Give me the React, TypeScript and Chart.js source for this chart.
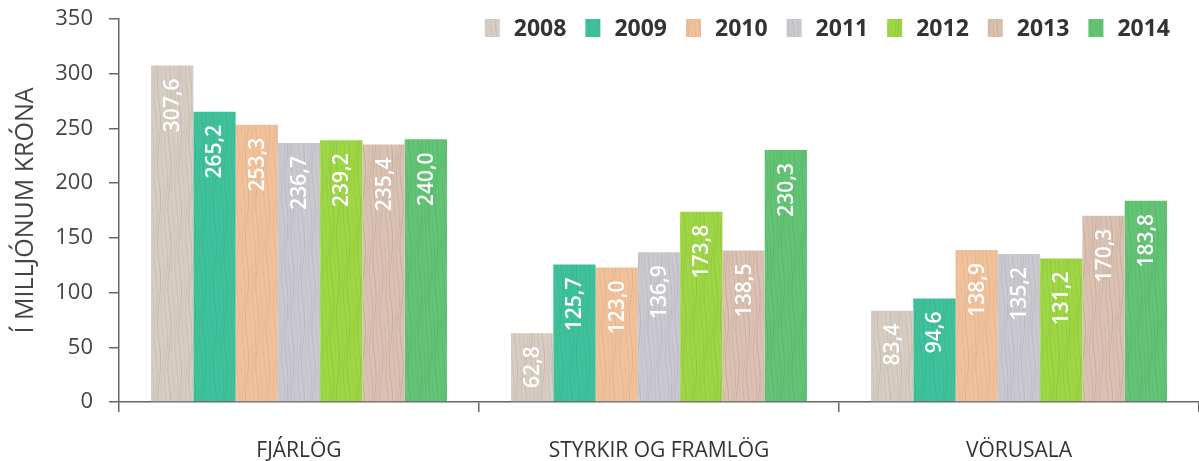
import React, { useEffect, useRef } from "react";
import { Chart, registerables } from "chart.js";

Chart.register(...registerables);

// Categories on the x axis
const categories = ["FJÁRLÖG", "STYRKIR OG FRAMLÖG", "VÖRUSALA"];

// Series (one per year), in millions of krónur
const years = ["2008", "2009", "2010", "2011", "2012", "2013", "2014"];
const values2008 = [307.6, 62.8, 83.4];
const values2009 = [265.2, 125.7, 94.6];
const values2010 = [253.3, 123.0, 138.9];
const values2011 = [236.7, 136.9, 135.2];
const values2012 = [239.2, 173.8, 131.2];
const values2013 = [235.4, 138.5, 170.3];
const values2014 = [240.0, 230.3, 183.8];

// Y axis ticks
const yTicks = [0, 50, 100, 150, 200, 250, 300, 350];
const yTitle = "Í MILLJÓNUM KRÓNA";

// Base wood tones and grain tones for each year
const baseColors = ["#d8cdc3", "#3fc29b", "#f0c19b", "#c9c9cf", "#9ed646", "#dbc1b2", "#64c476"];
const grainColors = ["#8f8174", "#1f8f6e", "#b98560", "#8a8a94", "#5f9a22", "#8d6f60", "#2f8f44"];

const seriesValues = [values2008, values2009, values2010, values2011, values2012, values2013, values2014];

// Builds a repeating wood-grain fill for the bars
function woodPattern(base: string, grain: string, seed: number): CanvasPattern | string {
  const w = 48;
  const h = 160;
  const c = document.createElement("canvas");
  c.width = w;
  c.height = h;
  const g = c.getContext("2d");
  if (!g) return base;
  g.fillStyle = base;
  g.fillRect(0, 0, w, h);
  g.strokeStyle = grain;
  g.lineWidth = 1;
  for (let i = 0; i < 14; i++) {
    const x0 = i * 3.5 + (seed % 3);
    g.globalAlpha = 0.1 + 0.07 * ((i * 7 + seed) % 3);
    g.beginPath();
    for (let y = 0; y <= h; y += 4) {
      const x = x0 + 1.6 * Math.sin((y / h) * Math.PI * 4 + i * 0.9 + seed);
      if (y === 0) g.moveTo(x, y);
      else g.lineTo(x, y);
    }
    g.stroke();
  }
  g.globalAlpha = 1;
  const p = g.createPattern(c, "repeat");
  return p || base;
}

const fmt = (v: number) => v.toFixed(1).replace(".", ",");

// White rotated value labels inside each bar, near its top
const barValueLabels = {
  id: "barValueLabels",
  afterDatasetsDraw(chart: any) {
    const ctx = chart.ctx;
    chart.data.datasets.forEach((ds: any, di: number) => {
      const meta = chart.getDatasetMeta(di);
      meta.data.forEach((bar: any, i: number) => {
        const v = ds.data[i] as number;
        ctx.save();
        ctx.translate(bar.x, bar.y + 13);
        ctx.rotate(-Math.PI / 2);
        ctx.textAlign = "right";
        ctx.textBaseline = "middle";
        ctx.font = '600 21px "Open Sans"';
        ctx.fillStyle = "#ffffff";
        ctx.fillText(fmt(v), 0, 1);
        ctx.restore();
      });
    });
  },
};

// Legend row at the top right of the plot
const yearLegend = {
  id: "yearLegend",
  afterDraw(chart: any) {
    const ctx = chart.ctx;
    ctx.save();
    ctx.font = 'bold 23px "Open Sans"';
    ctx.textBaseline = "middle";
    ctx.textAlign = "left";
    const cy = 28;
    let right = 1170;
    for (let i = chart.data.datasets.length - 1; i >= 0; i--) {
      const ds = chart.data.datasets[i];
      const tw = ctx.measureText(ds.label).width;
      const tx = right - tw;
      const bx = tx - 29;
      ctx.fillStyle = ds.backgroundColor;
      ctx.fillRect(bx, cy - 9, 15, 18);
      ctx.fillStyle = "#333333";
      ctx.fillText(ds.label, tx, cy + 1);
      right = bx - 19;
    }
    ctx.restore();
  },
};

export default function App() {
  const canvasRef = useRef<HTMLCanvasElement | null>(null);

  useEffect(() => {
    const canvas = canvasRef.current;
    if (!canvas) return;

    const datasets = years.map((y, i) => ({
      label: y,
      data: seriesValues[i],
      backgroundColor: woodPattern(baseColors[i], grainColors[i], i + 1) as any,
      borderWidth: 0,
      barPercentage: 1,
      categoryPercentage: 0.822,
    }));

    const chart = new Chart(canvas, {
      type: "bar",
      data: { labels: categories, datasets },
      options: {
        responsive: false,
        animation: false,
        layout: { padding: { top: 19, right: 0, bottom: 0, left: 0 } },
        plugins: {
          legend: { display: false },
          tooltip: { enabled: false },
        },
        scales: {
          x: {
            offset: true,
            grid: {
              display: true,
              offset: true,
              drawOnChartArea: false,
              drawTicks: true,
              tickLength: 10,
              color: "#666666",
              lineWidth: 1.5,
            },
            border: { display: true, color: "#666666", width: 1.5 },
            ticks: {
              color: "#333333",
              font: { family: '"Open Sans"', size: 21 },
              padding: 26,
              maxRotation: 0,
            },
            afterFit(scale: any) {
              scale.height = 59;
              scale.paddingLeft = 0;
              scale.paddingRight = 0;
            },
          },
          y: {
            min: 0,
            max: 350,
            afterBuildTicks(scale: any) {
              scale.ticks = yTicks.map((v) => ({ value: v }));
            },
            grid: {
              display: true,
              drawOnChartArea: false,
              drawTicks: true,
              tickLength: 10,
              color: "#666666",
              lineWidth: 1.5,
            },
            border: { display: true, color: "#666666", width: 1.5 },
            ticks: {
              color: "#444444",
              font: { family: '"Open Sans"', size: 22 },
              padding: 16,
            },
            title: {
              display: true,
              text: yTitle,
              color: "#444444",
              font: { family: '"Open Sans"', size: 25 },
              padding: { top: 11, bottom: 0 },
            },
            afterFit(scale: any) {
              scale.width = 119;
              scale.paddingTop = 0;
              scale.paddingBottom = 0;
            },
          },
        },
      },
      plugins: [barValueLabels, yearLegend],
    });

    return () => chart.destroy();
  }, []);

  return (
    <canvas
      ref={canvasRef}
      width={1199}
      height={461}
      style={{ position: "absolute", left: 0, top: 0, width: 1199, height: 461 }}
    />
  );
}
